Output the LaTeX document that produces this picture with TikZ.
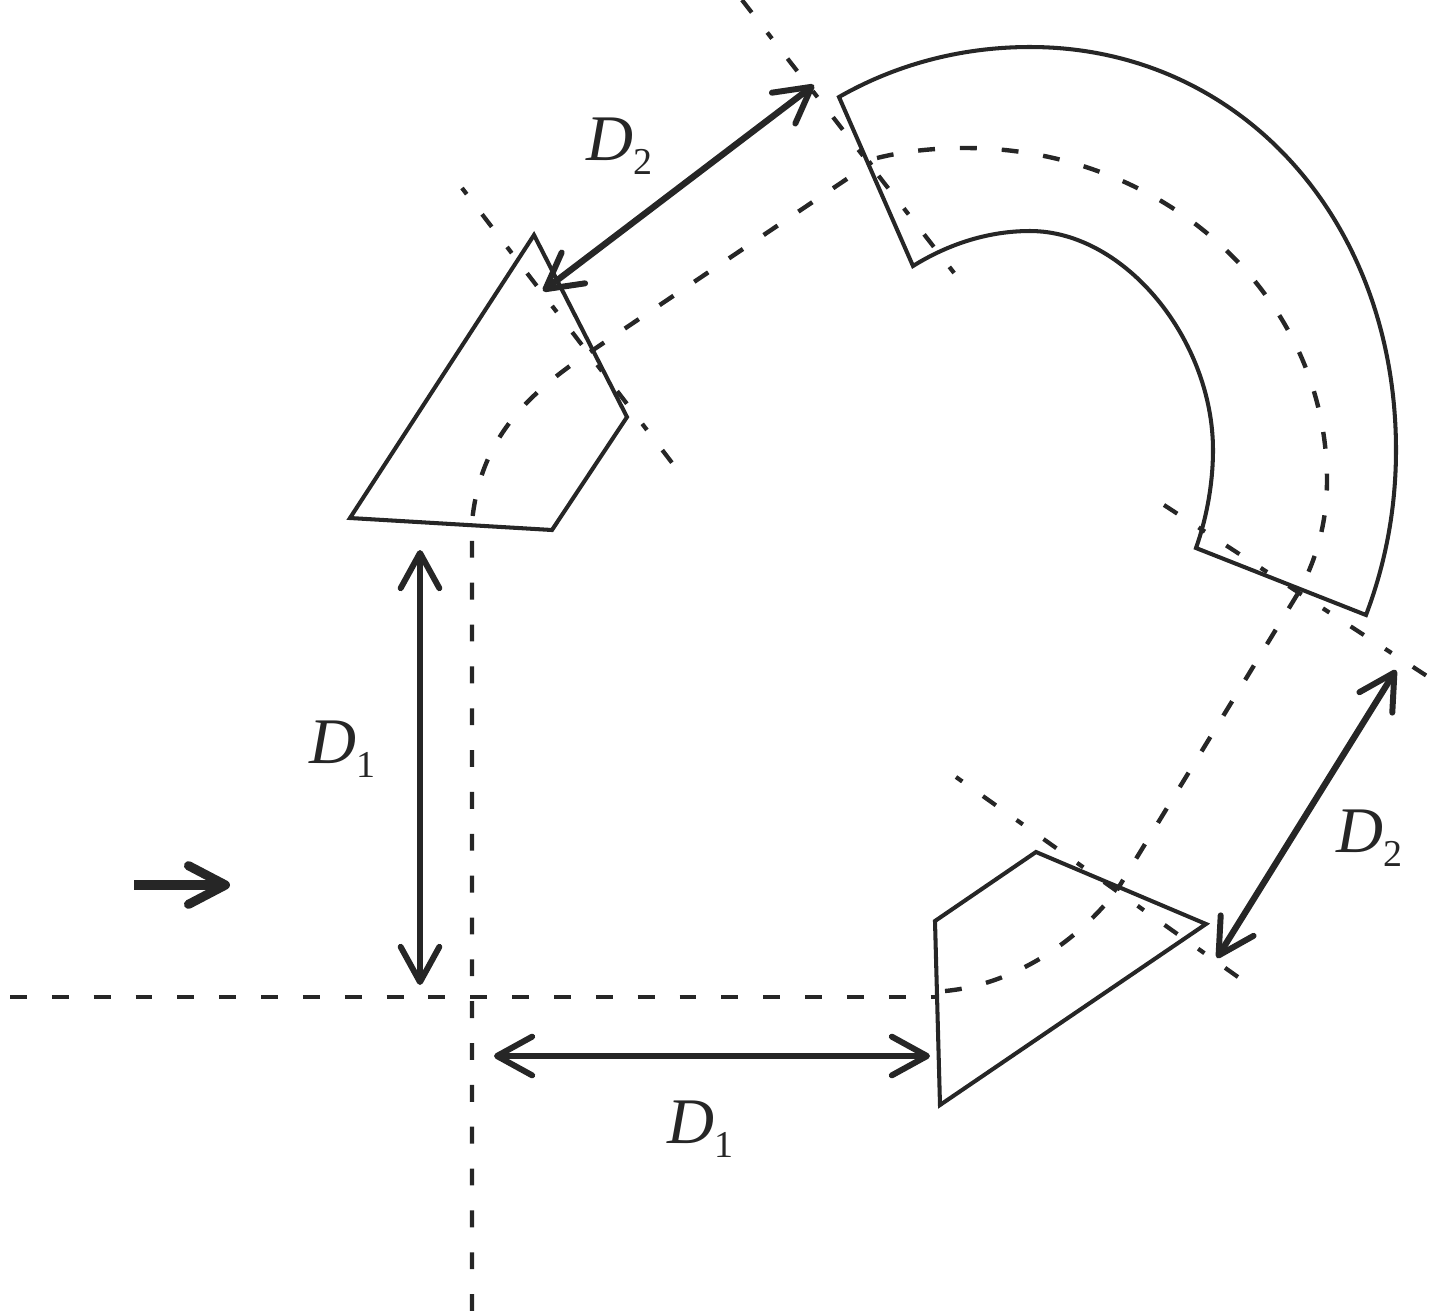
\documentclass[tikz,border=0pt]{standalone}
\usepackage{fontspec}
\setmainfont{Liberation Serif}
\usetikzlibrary{arrows.meta}
\newcommand{\gapD}[1]{\textit{D}\raisebox{-4pt}{\fontsize{10.8}{12}\selectfont #1}}
\tikzset{
  magnet/.style={draw=black!85, line width=1.15pt, line join=miter},
  axis/.style={draw=black!85, line width=1.25pt, dash pattern=on 4.8pt off 7.1pt},
  gapline/.style={draw=black!85, line width=1.2pt, dash pattern=on 4.5pt off 7.2pt on 2.2pt off 7.2pt},
  dotfirst/.style={dash phase=11.7pt},
  gaparrow/.style={draw=black!85, line width=1.8pt,
    {Straight Barb[length=10pt,width=11pt,line width=1.7pt,round]}-{Straight Barb[length=10pt,width=11pt,line width=1.7pt,round]}},
  beam/.style={draw=black!85, line width=2.7pt,
    -{Straight Barb[length=10.5pt,width=11pt,line width=2.6pt,round]}},
  gaplabel/.style={font=\fontsize{18.5}{20}\selectfont, text=black!85, inner sep=0pt, anchor=base west}
}
\begin{document}
\begin{tikzpicture}[x=0.01cm,y=-0.01cm]
  \useasboundingbox (0,0) rectangle (1441,1311);

  % left and lower magnets
  \coordinate (La) at (534,235); \coordinate (Lb) at (627,417);
  \coordinate (Lc) at (552,530); \coordinate (Ld) at (350,518);
  \coordinate (Ra) at (1036,852); \coordinate (Rb) at (1206,924);
  \coordinate (Rc) at (940,1105); \coordinate (Rd) at (935,921);
  \draw[magnet] (La) -- (Lb) -- (Lc) -- (Ld) -- cycle;
  \draw[magnet] (Ra) -- (Rb) -- (Rc) -- (Rd) -- cycle;

  % bending magnet
  \coordinate (Ma) at (839,97); \coordinate (Mb) at (1366,615);
  \coordinate (Mc) at (1196,548); \coordinate (Md) at (913,266);
  \draw[magnet] (Ma) .. controls (895,65) and (960,47) .. (1030,47)
    .. controls (1240,47) and (1396,220) .. (1396,450)
    .. controls (1396,510) and (1385,565) .. (Mb) -- (Mc)
    .. controls (1206,520) and (1213,485) .. (1213,450)
    .. controls (1213,340) and (1125,231) .. (1030,231)
    .. controls (990,231) and (950,243) .. (Md) -- cycle;

  % beam axis
  \coordinate (Aa) at (472,1311); \coordinate (Ab) at (472,522);
  \coordinate (Ac) at (593,350); \coordinate (Ad) at (872,162);
  \coordinate (Ae) at (1300,590); \coordinate (Af) at (1117,890);
  \coordinate (Ag) at (938,997); \coordinate (Ah) at (10,997);
  \coordinate (Ai) at (945,991); \coordinate (Aj) at (877,158);
  \draw[axis] (Aa) -- (Ab) .. controls (480,440) and (525,395) .. (Ac) -- (Ad);
  \draw[axis] (Aj) .. controls (905,151) and (935,148) .. (965,148)
    .. controls (1165,148) and (1327,297) .. (1327,480)
    .. controls (1327,520) and (1318,555) .. (Ae) -- (Af);
  \draw[axis] (Ah) -- (Ag);
  \draw[axis] (Ai) .. controls (1010,985) and (1075,945) .. (Af);

  % gap borders
  \coordinate (Ga) at (462,188); \coordinate (Gb) at (676,468);
  \coordinate (Gc) at (742,0); \coordinate (Gd) at (958,278);
  \coordinate (Ge) at (1164,505); \coordinate (Gf) at (1430,678);
  \coordinate (Gg) at (956,777); \coordinate (Gh) at (1238,977);
  \draw[gapline,dotfirst] (Ga) -- (Gb); \draw[gapline] (Gc) -- (Gd);
  \draw[gapline] (Ge) -- (Gf); \draw[gapline,dotfirst] (Gg) -- (Gh);

  % distances
  \coordinate (Da) at (420,550); \coordinate (Db) at (420,985);
  \coordinate (Dc) at (494,1056); \coordinate (Dd) at (930,1056);
  \coordinate (De) at (543,291); \coordinate (Df) at (814,85);
  \coordinate (Dg) at (1396,670); \coordinate (Dh) at (1217,958);
  \draw[gaparrow] (Da) -- (Db); \draw[gaparrow] (Dc) -- (Dd);
  \draw[gaparrow] (De) -- (Df); \draw[gaparrow] (Dg) -- (Dh);

  \node[gaplabel] (lA) at (309,763) {\gapD{1}};
  \node[gaplabel] (lB) at (667,1143) {\gapD{1}};
  \node[gaplabel] (lC) at (586,160) {\gapD{2}};
  \node[gaplabel] (lD) at (1336,852) {\gapD{2}};

  % beam direction
  \coordinate (Ba) at (134,885); \coordinate (Bb) at (230,885);
  \draw[beam] (Ba) -- (Bb);
\end{tikzpicture}
\end{document}
